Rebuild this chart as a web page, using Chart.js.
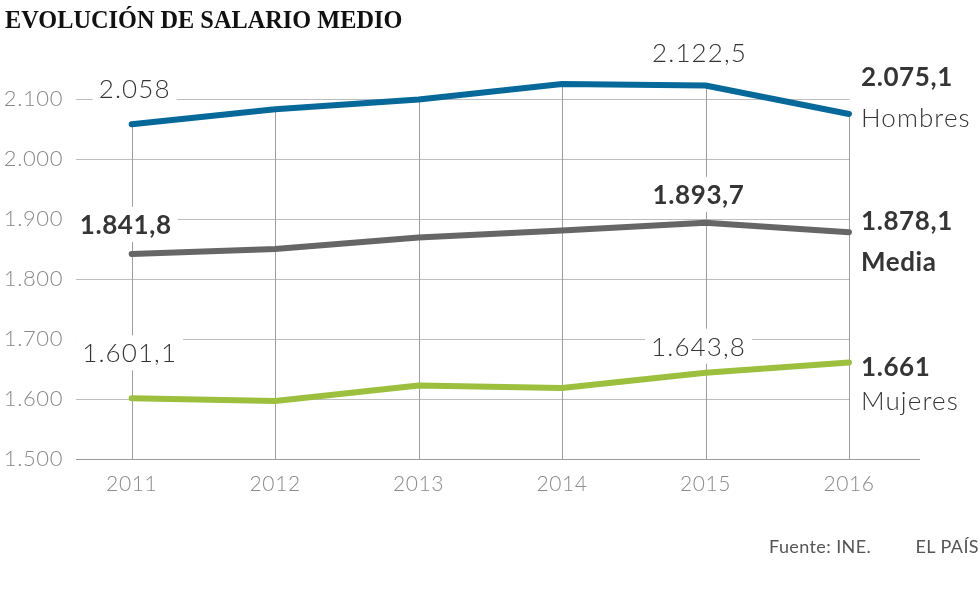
<!DOCTYPE html>
<html>
<head>
<meta charset="utf-8">
<script src="https://cdn.jsdelivr.net/npm/chart.js@4.4.1/dist/chart.umd.min.js"></script>
<style>
  html, body { margin: 0; padding: 0; background: #fff; }
  #wrap { position: relative; width: 980px; height: 597px; overflow: hidden; }
  #chart { position: absolute; left: 0; top: 0; }
  #title { position: absolute; left: 5px; top: 7px; margin: 0; font-family: "Liberation Serif", "Times New Roman", serif; font-weight: bold; font-size: 26px; line-height: 26px; color: #111; transform: scaleX(0.935); transform-origin: left top; white-space: nowrap; }
  .foot { position: absolute; top: 535px; font-family: Lato, "Noto Sans", sans-serif; font-size: 18px; line-height: 22px; color: #555; white-space: nowrap; letter-spacing: 0.4px; }
</style>
</head>
<body>
<div id="wrap">
  <canvas id="chart" width="980" height="597"></canvas>
  <h1 id="title">EVOLUCIÓN DE SALARIO MEDIO</h1>
  <div class="foot" style="left:769px;">Fuente: INE.</div>
  <div class="foot" style="right:1px;">EL PAÍS</div>
</div>
<script>
// ---- data ----
const years   = [2011, 2012, 2013, 2014, 2015, 2016];
const hombres = [2058, 2083, 2099, 2125, 2122.5, 2075.1];
const media   = [1841.8, 1850, 1869, 1881, 1893.7, 1878.1];
const mujeres = [1601.1, 1596.5, 1622.5, 1618.5, 1643.8, 1661];
const yTicks  = [1500, 1600, 1700, 1800, 1900, 2000, 2100];
const seriesNames = ['Hombres', 'Media', 'Mujeres'];

// ---- style ----
const colors = ['#07699a', '#666666', '#9dbf3e'];
const FONT = 'Lato, "Noto Sans", sans-serif';

function fmt(v) {
  const parts = String(v).split('.');
  const g = parts[0].replace(/\B(?=(\d{3})+(?!\d))/g, '.');
  return parts.length > 1 ? g + ',' + parts[1] : g;
}

// labels above points: [dataset, index, bold, dx, baseline dy]
const pointLabels = [
  [0, 0, false, 3, -26],
  [1, 0, true, -6, -20],
  [2, 0, false, -2, -36],
  [0, 4, false, -6, -24],
  [1, 4, true, -7, -19],
  [2, 4, false, -7, -17]
];
// end labels: [dataset, value dy, name dy, name bold]
const endLabels = [
  [0, -28, 13, false],
  [1, -2, 39, true],
  [2, 14, 48, false]
];

const allSeries = [hombres, media, mujeres];

function spacing(ctx, px) { if ('letterSpacing' in ctx) ctx.letterSpacing = px + 'px'; }

const decor = {
  id: 'decor',
  beforeDraw(chart) { spacing(chart.ctx, 0.6); },
  beforeDatasetsDraw(chart) {
    const ctx = chart.ctx, xs = chart.scales.x, ys = chart.scales.y, ca = chart.chartArea;
    ctx.save();
    ctx.lineWidth = 1;
    yTicks.forEach(v => {
      const y = Math.round(ys.getPixelForValue(v)) + 0.5;
      ctx.strokeStyle = v === yTicks[0] ? '#9a9a9a' : '#bdbdbd';
      ctx.beginPath();
      ctx.moveTo(ca.left, y);
      ctx.lineTo(v === yTicks[0] ? ca.right : xs.getPixelForValue(years[years.length - 1]) + 0.5, y);
      ctx.stroke();
    });
    years.forEach((yr, i) => {
      const x = Math.round(xs.getPixelForValue(yr)) + 0.5;
      const top = Math.max(...allSeries.map(s => s[i]));
      ctx.strokeStyle = '#9e9e9e';
      ctx.beginPath();
      ctx.moveTo(x, ys.getPixelForValue(yTicks[0]));
      ctx.lineTo(x, ys.getPixelForValue(top));
      ctx.stroke();
    });
    ctx.restore();
  },
  afterDatasetsDraw(chart) {
    const ctx = chart.ctx, xs = chart.scales.x, ys = chart.scales.y;
    ctx.save();
    ctx.textBaseline = 'alphabetic';
    pointLabels.forEach(([d, i, bold, dx, dy]) => {
      const txt = fmt(allSeries[d][i]);
      const px = xs.getPixelForValue(years[i]) + dx;
      const base = ys.getPixelForValue(allSeries[d][i]) + dy;
      ctx.font = (bold ? '700 ' : '300 ') + '26px ' + FONT;
      spacing(ctx, bold ? 0.6 : 1.1);
      const w = ctx.measureText(txt).width;
      ctx.fillStyle = '#ffffff';
      ctx.fillRect(px - w / 2 - 6, base - 19 - 8, w + 12, 19 + 16);
      ctx.fillStyle = '#353535';
      ctx.textAlign = 'center';
      ctx.fillText(txt, px, base);
    });
    endLabels.forEach(([d, vdy, ndy, nbold]) => {
      const i = years.length - 1;
      const px = xs.getPixelForValue(years[i]) + 12;
      const py = ys.getPixelForValue(allSeries[d][i]);
      ctx.textAlign = 'left';
      ctx.fillStyle = '#353535';
      ctx.font = '700 26px ' + FONT;
      spacing(ctx, 0.6);
      ctx.fillText(fmt(allSeries[d][i]), px, py + vdy);
      ctx.font = (nbold ? '700 ' : '300 ') + '26px ' + FONT;
      spacing(ctx, nbold ? 0.6 : 1.1);
      ctx.fillText(seriesNames[d], px, py + ndy);
    });
    ctx.restore();
  }
};

new Chart(document.getElementById('chart'), {
  type: 'line',
  data: {
    datasets: allSeries.map((s, k) => ({
      label: seriesNames[k],
      data: years.map((yr, i) => ({ x: yr, y: s[i] })),
      borderColor: colors[k],
      borderWidth: 6,
      borderCapStyle: 'round',
      borderJoinStyle: 'round',
      pointRadius: 0,
      tension: 0,
      fill: false
    }))
  },
  options: {
    responsive: false,
    animation: false,
    layout: { padding: { left: 0, right: 60, top: 63, bottom: 0 } },
    plugins: { legend: { display: false }, tooltip: { enabled: false }, title: { display: false } },
    scales: {
      x: {
        type: 'linear',
        min: 2010.612,
        max: 2016.495,
        afterBuildTicks: s => { s.ticks = years.map(v => ({ value: v })); },
        afterFit: s => { s.height = 138; },
        grid: { display: false, drawTicks: false },
        border: { display: false },
        ticks: {
          padding: 13,
          color: '#8a8a8a',
          font: { family: FONT, size: 21, weight: '300' },
          callback: v => String(v),
          maxRotation: 0,
          autoSkip: false
        }
      },
      y: {
        min: 1500,
        max: 2160,
        afterBuildTicks: s => { s.ticks = yTicks.map(v => ({ value: v })); },
        afterFit: s => { s.width = 76; },
        grid: { display: false, drawTicks: false },
        border: { display: false },
        ticks: {
          padding: 13,
          color: '#8a8a8a',
          font: { family: FONT, size: 22, weight: '300' },
          callback: v => fmt(v)
        }
      }
    }
  },
  plugins: [decor]
});
</script>
</body>
</html>
